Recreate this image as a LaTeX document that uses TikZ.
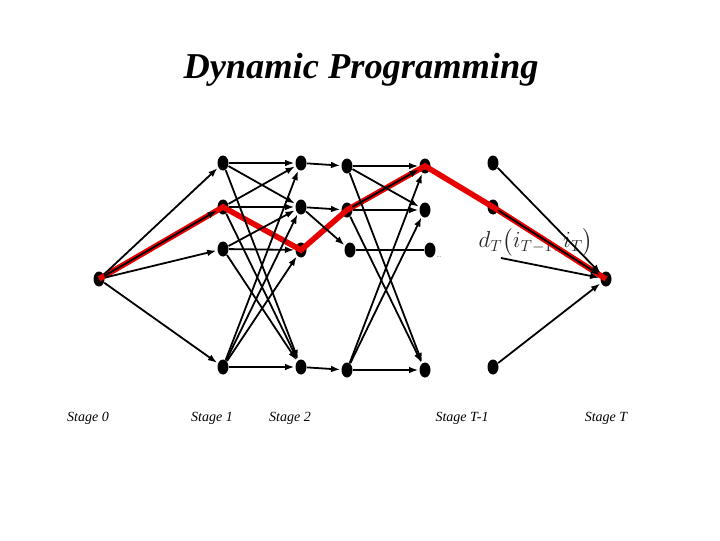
\documentclass[tikz,border=0pt]{standalone}
\usepackage{amsmath}
\usepackage{fontspec}
\setmainfont{Liberation Serif}
\usetikzlibrary{shapes.geometric,arrows.meta}

\tikzset{every picture/.style={line width=0.75pt}}
\tikzset{
  dot/.style={ellipse, fill=black, minimum width=8.25pt, minimum height=11.25pt, inner sep=0pt},
  arc/.style={-{Latex[length=7pt,width=5pt]}, line width=1.35pt, shorten >=0.5pt},
  plainarc/.style={line width=1.35pt},
  redpath/.style={color={rgb, 255:red, 230; green, 0; blue, 0 }, line width=4.2pt},
  stagelabel/.style={font=\fontsize{10.5}{12}\selectfont\itshape, inner sep=0.75pt}
}

\begin{document}
\begin{tikzpicture}[x=0.75pt,y=0.75pt,yscale=-1,xscale=1]
\useasboundingbox (0,0) rectangle (720,540);

% Title
\node (title) at (361,70) {\fontsize{27.3}{32}\selectfont\bfseries\itshape Dynamic Programming};

% Stage nodes
\node [dot] (s0) at (99,279) {};
\node [dot] (a1) at (223,163) {};
\node [dot] (a2) at (223,207) {};
\node [dot] (a3) at (223,249) {};
\node [dot] (a4) at (223,367) {};
\node [dot] (b1) at (301,163) {};
\node [dot] (b2) at (301,207) {};
\node [dot] (b3) at (301,250) {};
\node [dot] (b4) at (301,367) {};
\node [dot] (c1) at (347,166) {};
\node [dot] (c2) at (347,210) {};
\node [dot] (c3) at (350,250) {};
\node [dot] (c4) at (347,370) {};
\node [dot] (d1) at (425,166) {};
\node [dot] (d2) at (425,210) {};
\node [dot] (d3) at (430,250) {};
\node [dot] (d4) at (425,370) {};
\node [dot] (e1) at (493,163) {};
\node [dot] (e2) at (493,207) {};
\coordinate (e3) at (501,258);
\node [dot] (e4) at (493,367) {};
\node [dot] (sT) at (606,279) {};
\node [font=\tiny, text=black!60, inner sep=0pt] (dots) at (439,257) {...};

% Cost label
\node [text=black!85] (cost) at (536,242) {\fontsize{17.5}{21}\selectfont $d_T\bigl(i_{T-1}, i_T\bigr)$};

% Optimal path
\draw [redpath] (s0.center) -- (a2.center) -- (b3.center) -- (c2.center) -- (d1.center) -- (e2.center) -- (sT.center);

% Stage 0 -> Stage 1
\draw [arc] (s0) -- (a1);
\draw [arc] (s0) -- (a2);
\draw [arc] (s0) -- (a3);
\draw [arc] (s0) -- (a4);

% Stage 1 -> Stage 2
\draw [arc] (a1) -- (b1);
\draw [arc] (a1) -- (b2);
\draw [arc] (a1) -- (b4);
\draw [arc] (a2) -- (b1);
\draw [arc] (a2) -- (b2);
\draw [arc] (a2) -- (b4);
\draw [arc] (a3) -- (b2);
\draw [arc] (a3) -- (b3);
\draw [arc] (a3) -- (b4);
\draw [arc] (a4) -- (b1);
\draw [arc] (a4) -- (b2);
\draw [arc] (a4) -- (b3);
\draw [arc] (a4) -- (b4);

% Stage 2 -> next
\draw [arc] (b1) -- (c1);
\draw [arc] (b2) -- (c2);
\draw [arc] (b2) -- (c3);
\draw [arc] (b4) -- (c4);

% -> Stage T-1
\draw [arc] (c1) -- (d1);
\draw [arc] (c1) -- (d2);
\draw [arc] (c1) -- (d4);
\draw [arc] (c2) -- (d1);
\draw [arc] (c2) -- (d2);
\draw [arc] (c2) -- (d4);
\draw [plainarc] (c3) -- (d3);
\draw [arc] (c4) -- (d1);
\draw [arc] (c4) -- (d2);
\draw [arc] (c4) -- (d4);

% -> Stage T
\draw [arc] (e1) -- (sT);
\draw [arc] (e2) -- (sT);
\draw [arc] (e3) -- (sT);
\draw [arc] (e4) -- (sT);

% Stage labels
\node [stagelabel] (l0) at (88,418) {Stage 0};
\node [stagelabel] (l1) at (212,418) {Stage 1};
\node [stagelabel] (l2) at (290,418) {Stage 2};
\node [stagelabel] (lT1) at (462,418) {Stage T-1};
\node [stagelabel] (lT) at (606,418) {Stage T};

\end{tikzpicture}
\end{document}
